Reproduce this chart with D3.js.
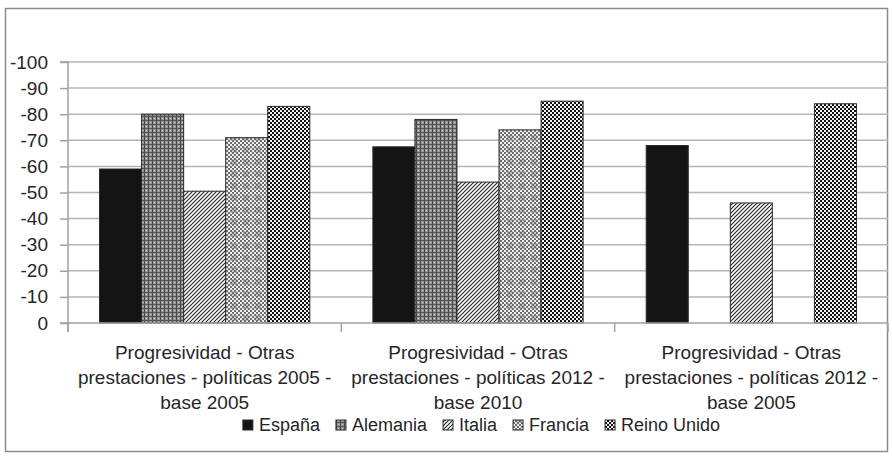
<!DOCTYPE html>
<html>
<head>
<meta charset="utf-8">
<script src="https://cdn.jsdelivr.net/npm/d3@7"></script>
<style>
  body { margin: 0; background: #fff; }
  svg text { font-family: "Liberation Sans", Arial, sans-serif; fill: #262626; }
</style>
</head>
<body>
<svg id="chart" width="892" height="457"></svg>
<script>
// ---- data ----
const categories = [
  ["Progresividad - Otras", "prestaciones - políticas 2005 -", "base 2005"],
  ["Progresividad - Otras", "prestaciones - políticas 2012 -", "base 2010"],
  ["Progresividad - Otras", "prestaciones - políticas 2012 -", "base 2005"]
];
const seriesNames = ["España", "Alemania", "Italia", "Francia", "Reino Unido"];
const espana   = [-59, -67.5, -68];
const alemania = [-80, -78, null];
const italia   = [-50.5, -54, -46];
const francia  = [-71, -74, null];
const reinoUnido = [-83, -85, -84];
const yTicks = [0, -10, -20, -30, -40, -50, -60, -70, -80, -90, -100];

const seriesValues = [espana, alemania, italia, francia, reinoUnido];

(function () {
const svg = d3.select("#chart");
const defs = svg.append("defs");

function pat(id, w, h, build) {
  const p = defs.append("pattern").attr("id", id).attr("patternUnits", "userSpaceOnUse")
    .attr("width", w).attr("height", h);
  build(p);
}
pat("pAle", 4, 4, p => {
  p.append("rect").attr("width", 4).attr("height", 4).attr("fill", "#959595");
  p.append("rect").attr("x", 0).attr("width", 1).attr("height", 4).attr("fill", "#454545");
  p.append("rect").attr("y", 0).attr("width", 4).attr("height", 1).attr("fill", "#555");
  p.append("rect").attr("x", 2).attr("y", 2).attr("width", 1).attr("height", 1).attr("fill", "#d0d0d0");
});
pat("pIta", 4, 4, p => {
  p.append("rect").attr("width", 4).attr("height", 4).attr("fill", "#fff");
  p.append("path").attr("d", "M-1,1 L1,-1 M0,4 L4,0 M3,5 L5,3").attr("stroke", "#222").attr("stroke-width", 1.1);
});
pat("pFra", 12, 12, p => {
  p.append("rect").attr("width", 12).attr("height", 12).attr("fill", "#f0f0f0");
  for (let i = 0; i < 12; i += 2) for (let j = 0; j < 12; j += 2) {
    if (((i + j) / 2) % 2 === 0) p.append("rect").attr("x", i).attr("y", j).attr("width", 2).attr("height", 2).attr("fill", "#6e6e6e");
  }
  p.append("rect").attr("x", 3).attr("y", 3).attr("width", 6).attr("height", 6).attr("fill", "#666").attr("opacity", 0.35);
});
pat("pRU", 4, 4, p => {
  p.append("rect").attr("width", 4).attr("height", 4).attr("fill", "#f4f4f4");
  p.append("rect").attr("x", 0).attr("y", 0).attr("width", 2).attr("height", 2).attr("fill", "#111");
  p.append("rect").attr("x", 2).attr("y", 2).attr("width", 2).attr("height", 2).attr("fill", "#111");
});
const fills = ["#141414", "url(#pAle)", "url(#pIta)", "url(#pFra)", "url(#pRU)"];

svg.append("rect").attr("x", 5.5).attr("y", 8.5).attr("width", 882).attr("height", 443)
  .attr("fill", "#fff").attr("stroke", "#8c8c8c").attr("stroke-width", 1.5);

const pLeft = 68, pRight = 888, pTop = 62, pBottom = 323;

const y = d3.scaleLinear().domain([0, -100]).range([pBottom, pTop]);
const x0 = d3.scaleBand().domain(d3.range(categories.length)).range([pLeft, pRight]).paddingInner(0).paddingOuter(0);
const x1 = d3.scaleBand().domain(d3.range(seriesNames.length)).range([0, x0.bandwidth()]).paddingOuter(0.75).paddingInner(0);

svg.append("g").selectAll("line").data(yTicks.filter(d => d !== 0)).join("line")
  .attr("x1", pLeft).attr("x2", pRight).attr("y1", d => y(d)).attr("y2", d => y(d))
  .attr("stroke", "#b4b4b4").attr("stroke-width", 1.5);

const yAxis = d3.axisLeft(y).tickValues(yTicks).tickSize(8).tickPadding(12).tickFormat(d => String(d));
const gy = svg.append("g").attr("transform", `translate(${pLeft},0)`).call(yAxis);
gy.select(".domain").attr("stroke", "#a0a0a0").attr("stroke-width", 1.5).attr("d", `M-8,${pTop}H0V${pBottom + 9}`);
gy.selectAll(".tick line").attr("stroke", "#a0a0a0").attr("stroke-width", 1.5);
gy.selectAll(".tick text").attr("font-size", 19).attr("fill", "#333")
  .style("font-family", "Liberation Sans, Arial, sans-serif");

const barG = svg.append("g");
categories.forEach((c, ci) => {
  seriesValues.forEach((vals, si) => {
    const v = vals[ci];
    if (v === null) return;
    barG.append("rect")
      .attr("x", x0(ci) + x1(si))
      .attr("y", y(v))
      .attr("width", x1.bandwidth())
      .attr("height", y(0) - y(v))
      .attr("fill", fills[si])
      .attr("stroke", "#2a2a2a").attr("stroke-width", 1);
  });
});

svg.append("line").attr("x1", pLeft - 8).attr("x2", pRight).attr("y1", pBottom).attr("y2", pBottom)
  .attr("stroke", "#a0a0a0").attr("stroke-width", 1.5);
svg.append("g").selectAll("line").data(d3.range(categories.length + 1)).join("line")
  .attr("x1", d => pLeft + d * x0.bandwidth()).attr("x2", d => pLeft + d * x0.bandwidth())
  .attr("y1", pBottom).attr("y2", pBottom + 9).attr("stroke", "#a0a0a0").attr("stroke-width", 1.5);

const catG = svg.append("g");
categories.forEach((lines, ci) => {
  const t = catG.append("text").attr("text-anchor", "middle").attr("font-size", 19).attr("fill", "#333")
    .attr("transform", `translate(${x0(ci) + x0.bandwidth() / 2},0)`);
  lines.forEach((ln, li) => {
    t.append("tspan").attr("x", 0).attr("y", 359 + li * 25).text(ln);
  });
});

// legend (laid out by measuring, then centred)
const legend = svg.append("g");
let lx = 0;
seriesNames.forEach((n, i) => {
  const g = legend.append("g").attr("transform", `translate(${lx},0)`);
  g.append("rect").attr("x", 0).attr("y", -6).attr("width", 10).attr("height", 10)
    .attr("fill", fills[i]).attr("stroke", "#2a2a2a").attr("stroke-width", 1);
  const t = g.append("text").attr("x", 16).attr("y", 5).attr("font-size", 18).attr("fill", "#333").text(n);
  lx += 16 + t.node().getComputedTextLength() + 16;
});
const lw = lx - 16;
legend.attr("transform", `translate(${481.5 - lw / 2},426)`);
})();
</script>
</body>
</html>
